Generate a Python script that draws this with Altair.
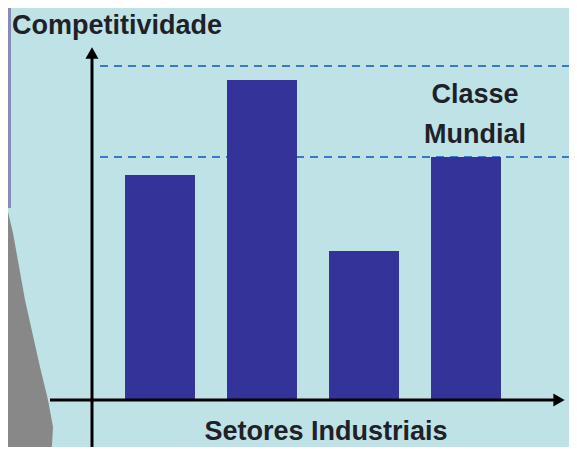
import altair as alt
import pandas as pd

# ---- data ----
sectors = ["Setor A", "Setor B", "Setor C", "Setor D"]
competitividade = [2.25, 3.20, 1.49, 2.43]
classe_mundial_levels = [2.43, 3.34]

# decorative left-edge shape (page pixel units)
deco_y = [195, 233, 300, 367, 400, 427, 445, 455]
deco_x = [4, 13, 25, 40, 48, 53, 52, 50]

W, H = 561, 439
BG = "#bee2e6"
BAR = "#333399"
DASH = "#3a78c8"
INK = "#1e2228"
FONT = "Liberation Sans"

bars_df = pd.DataFrame({"sector": sectors, "value": competitividade})
levels_df = pd.DataFrame({"value": classe_mundial_levels})
deco_df = pd.DataFrame({"py": deco_y, "px": deco_x})
one = alt.Data(values=[{}])

yscale = alt.Scale(domain=[-0.47, 3.92], nice=False, zero=False)

dashes = alt.Chart(levels_df).mark_rule(
    color=DASH, strokeWidth=2.2, strokeDash=[8, 6]
).encode(
    x=alt.value(92), x2=alt.value(561),
    y=alt.Y("value:Q", scale=yscale, axis=None),
)

bars = alt.Chart(bars_df).mark_bar(color=BAR).encode(
    x=alt.X("sector:N", sort=sectors, axis=None,
            scale=alt.Scale(range=[101, 509], paddingInner=0.314, paddingOuter=0.157)),
    y=alt.Y("value:Q", scale=yscale, axis=None),
    y2=alt.datum(0),
)

yaxis = alt.Chart(one).mark_rule(color="black", strokeWidth=3).encode(
    x=alt.value(84), y=alt.value(50), y2=alt.value(H)
)
yarrow = alt.Chart(one).mark_point(
    shape="triangle-up", filled=True, color="black", size=170, opacity=1
).encode(x=alt.value(84), y=alt.value(45))

xaxis = alt.Chart(one).mark_rule(color="black", strokeWidth=3).encode(
    x=alt.value(42), x2=alt.value(550), y=alt.value(392)
)
xarrow = alt.Chart(one).mark_point(
    shape="triangle-right", filled=True, color="black", size=170, opacity=1
).encode(x=alt.value(551), y=alt.value(392))

def label(txt, x, y, align):
    return alt.Chart(one).mark_text(
        text=txt, font=FONT, fontSize=27, fontWeight="bold", color=INK,
        align=align, baseline="alphabetic"
    ).encode(x=alt.value(x), y=alt.value(y))

texts = [
    label("Competitividade", 4, 26, "left"),
    label("Setores Industriais", 318, 432, "center"),
    label("Classe", 467, 95, "center"),
    label("Mundial", 467, 135, "center"),
]

main = alt.layer(dashes, bars, yaxis, yarrow, xaxis, xarrow, *texts)

band = alt.Chart(one).mark_rect(color="#8a8ab6").encode(
    x=alt.value(0), x2=alt.value(3), y=alt.value(0), y2=alt.value(200)
)
deco = alt.Chart(deco_df).mark_area(orient="horizontal", color="#888888", opacity=1).encode(
    y=alt.Y("py:Q", scale=alt.Scale(domain=[8, 447], reverse=True, nice=False, zero=False), axis=None),
    x=alt.X("px:Q", scale=alt.Scale(domain=[8, 569], nice=False, zero=False), axis=None),
    x2=alt.datum(-10),
)

chart = alt.layer(alt.layer(band, deco), main).resolve_scale(
    x="independent", y="independent"
).properties(
    width=W, height=H, padding=0, autosize=alt.AutoSizeParams(type="none"),
    background=BG,
).configure_view(strokeWidth=0)

chart.save("out.html", embed_options={"renderer": "svg", "actions": False})
